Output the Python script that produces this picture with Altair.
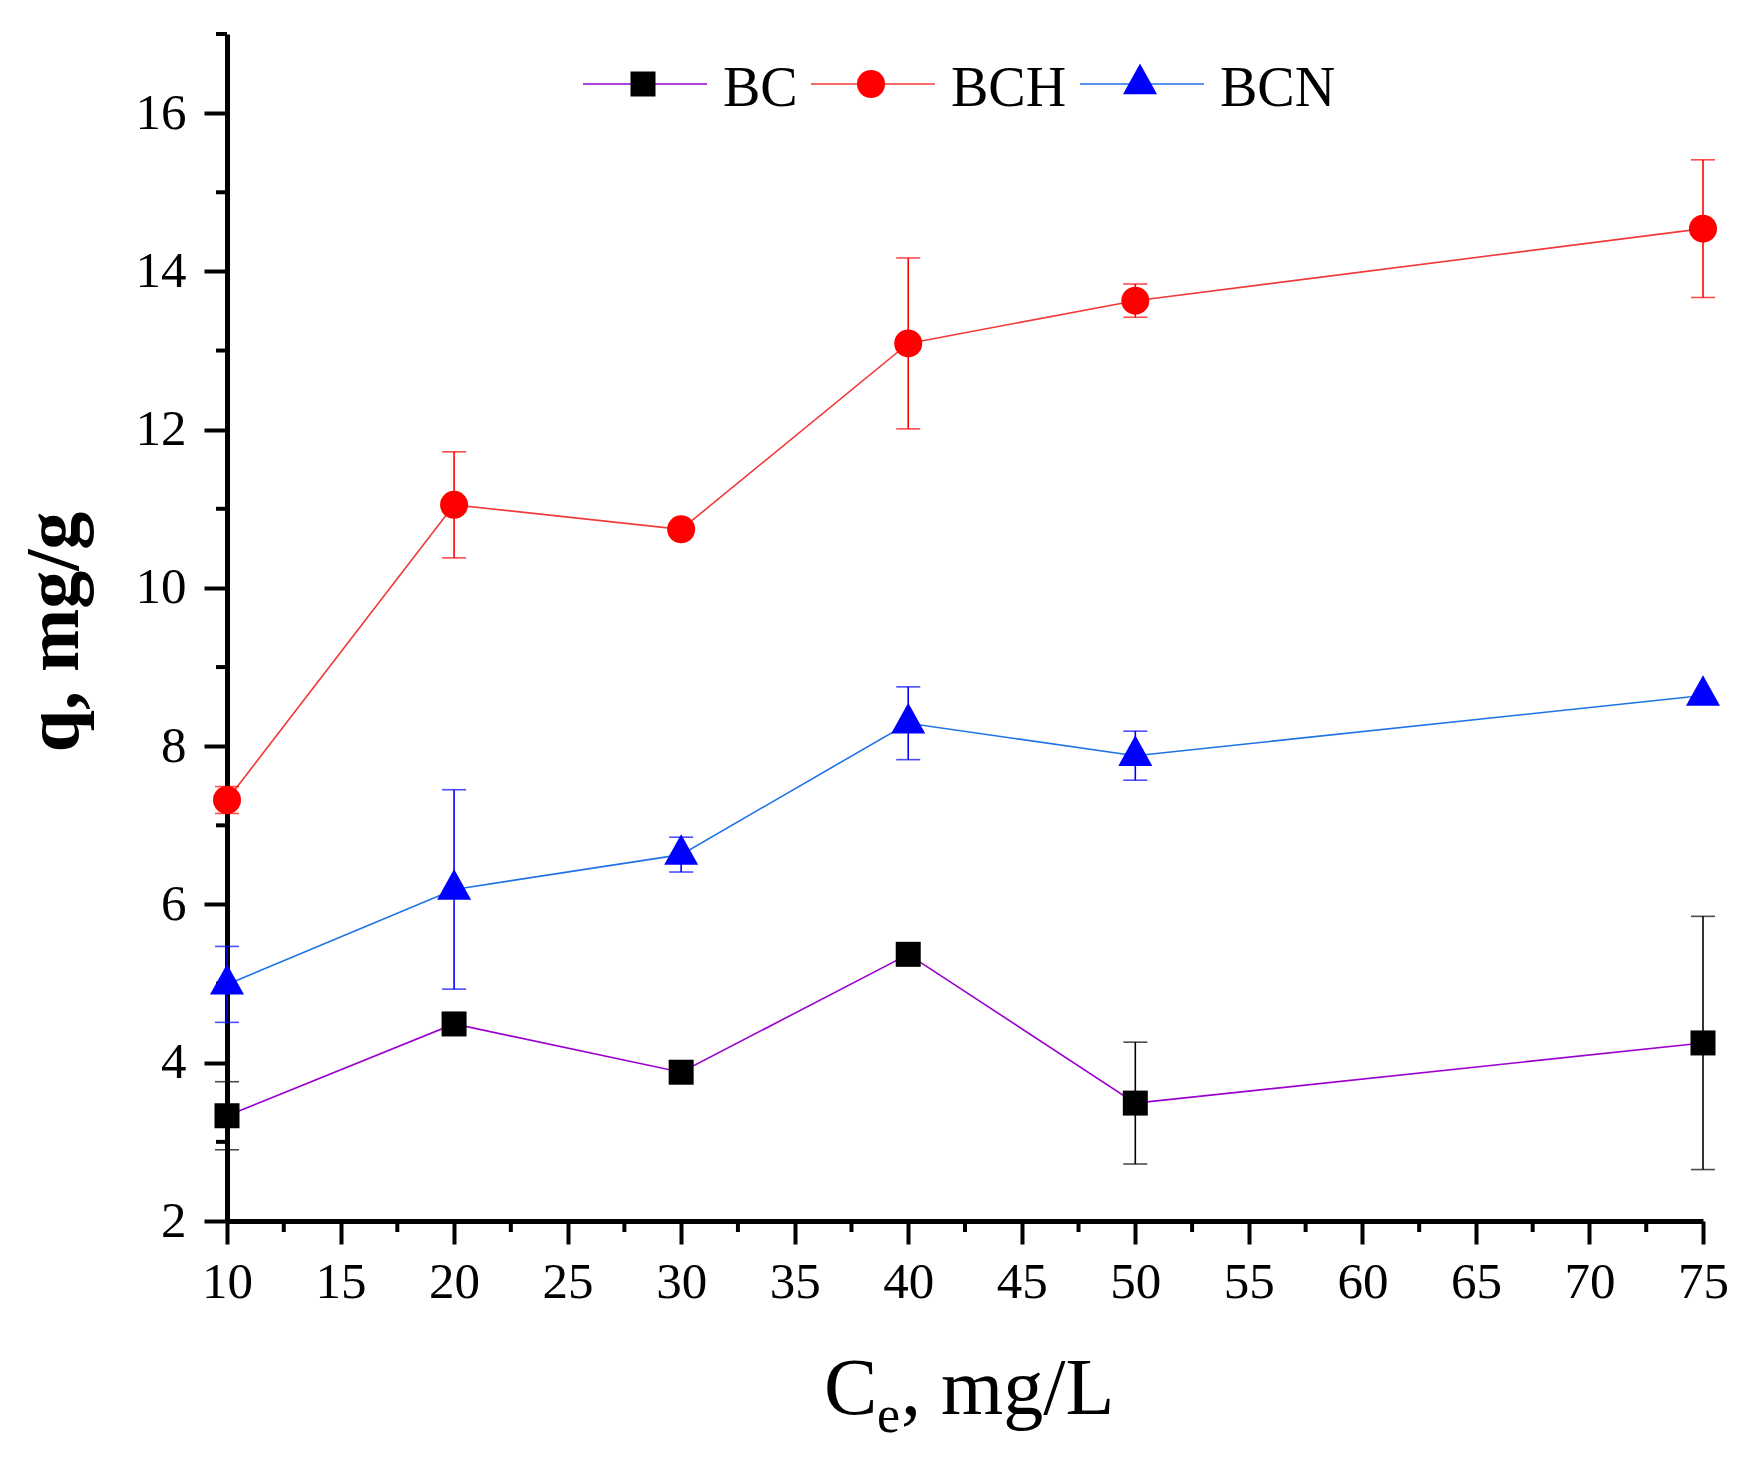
import pandas as pd
import altair as alt

# Ce, mg/L
ce = [10, 20, 30, 40, 50, 75]
series = ["BC", "BCH", "BCN"]

# q, mg/g and standard deviation (0 = no bar drawn)
bc_q = [3.33, 4.49, 3.88, 5.37, 3.49, 4.25]
bc_err = [0.43, 0, 0, 0, 0.77, 1.60]
bch_q = [7.32, 11.05, 10.74, 13.09, 13.63, 14.54]
bch_err = [0.17, 0.67, 0, 1.08, 0.21, 0.87]
bcn_q = [4.99, 6.19, 6.63, 8.29, 7.88, 8.64]
bcn_err = [0.48, 1.26, 0.22, 0.46, 0.31, 0]

x_major = [10, 15, 20, 25, 30, 35, 40, 45, 50, 55, 60, 65, 70, 75]
x_minor = [12.5, 17.5, 22.5, 27.5, 32.5, 37.5, 42.5, 47.5, 52.5, 57.5, 62.5, 67.5, 72.5]
y_major = [2, 4, 6, 8, 10, 12, 14, 16]
y_minor = [3, 5, 7, 9, 11, 13, 15, 17]

W, H = 1476, 1187
FONT = "Liberation Serif"

line_colors = {"BC": "#9B00CF", "BCH": "#F23A3A", "BCN": "#1F73E6"}
mark_colors = {"BC": "#000000", "BCH": "#FF0000", "BCN": "#0000FF"}
shapes = {"BC": "square", "BCH": "circle", "BCN": "M0,-1.2L1,0.6L-1,0.6Z"}
sizes = {"BC": 625, "BCH": 784, "BCN": 1156}

frames = []
for name, q, err in zip(series, [bc_q, bch_q, bcn_q], [bc_err, bch_err, bcn_err]):
    frames.append(pd.DataFrame({"ce": ce, "q": q, "err": err, "series": name}))
df = pd.concat(frames, ignore_index=True)
df["lo"] = df["q"] - df["err"]
df["hi"] = df["q"] + df["err"]

axis_common = dict(domainColor="black", domainWidth=5, tickColor="black", tickWidth=4,
                   tickSize=23, labelFont=FONT, labelFontSize=51, labelColor="black",
                   grid=False, labelFlush=False, labelOverlap=False)


def xq(field):
    return alt.X(field + ":Q", title=None,
                 scale=alt.Scale(domain=[10, 75], nice=False, zero=False),
                 axis=alt.Axis(values=x_major, labelPadding=13, **axis_common))


def yq(field):
    return alt.Y(field + ":Q", title="q, mg/g",
                 scale=alt.Scale(domain=[2, 17], nice=False, zero=False),
                 axis=alt.Axis(values=y_major, labelPadding=18, titleFont=FONT,
                               titleFontSize=76, titleFontWeight="bold", titleColor="black",
                               titleX=-150, titleY=H / 2 + 4, titleAngle=270,
                               titleAlign="center", titleBaseline="alphabetic",
                               **axis_common))


layers = []

# minor ticks
layers.append(alt.Chart(pd.DataFrame({"q": y_minor})).mark_rule(color="black", strokeWidth=4)
              .encode(y=yq("q"), x=alt.value(-11), x2=alt.value(0)))
layers.append(alt.Chart(pd.DataFrame({"ce": x_minor})).mark_rule(color="black", strokeWidth=4)
              .encode(x=xq("ce"), y=alt.value(H), y2=alt.value(H + 11)))

for name in series:
    d = df[df["series"] == name]
    layers.append(alt.Chart(d).mark_line(color=line_colors[name], strokeWidth=1.6)
                  .encode(x=xq("ce"), y=yq("q")))

for name in series:
    d = df[(df["series"] == name) & (df["err"] > 0)]
    c = mark_colors[name]
    layers.append(alt.Chart(d).mark_rule(color=c, strokeWidth=1.6)
                  .encode(x=xq("ce"), y=yq("lo"), y2="hi:Q"))
    layers.append(alt.Chart(d).mark_tick(color=c, orient="horizontal", size=24, thickness=1.6)
                  .encode(x=xq("ce"), y=yq("hi")))
    layers.append(alt.Chart(d).mark_tick(color=c, orient="horizontal", size=24, thickness=1.6)
                  .encode(x=xq("ce"), y=yq("lo")))

for name in series:
    d = df[df["series"] == name]
    layers.append(alt.Chart(d).mark_point(shape=shapes[name], size=sizes[name], filled=True,
                                          color=mark_colors[name], opacity=1)
                  .encode(x=xq("ce"), y=yq("q")))

# legend across the top
legend_start = [356, 584, 853]
for i, name in enumerate(series):
    x0 = legend_start[i]
    ld = pd.DataFrame({"series": [name]})
    layers.append(alt.Chart(ld).mark_rule(color=line_colors[name], strokeWidth=1.6)
                  .encode(x=alt.value(x0), x2=alt.value(x0 + 124), y=alt.value(50)))
    layers.append(alt.Chart(ld).mark_point(shape=shapes[name], size=sizes[name], filled=True,
                                           color=mark_colors[name], opacity=1)
                  .encode(x=alt.value(x0 + 60), y=alt.value(50)))
    layers.append(alt.Chart(ld).mark_text(align="left", baseline="alphabetic", font=FONT,
                                          fontSize=56, color="black")
                  .encode(x=alt.value(x0 + 140), y=alt.value(72), text="series:N"))

# x title with subscript e
tx = pd.DataFrame({"t": ["C"]})
layers.append(alt.Chart(tx).mark_text(text="C", align="left", baseline="alphabetic", font=FONT,
                                      fontSize=80, color="black")
              .encode(x=alt.value(597), y=alt.value(1380)))
layers.append(alt.Chart(tx).mark_text(text="e", align="left", baseline="alphabetic", font=FONT,
                                      fontSize=52, color="black")
              .encode(x=alt.value(650), y=alt.value(1398)))
layers.append(alt.Chart(tx).mark_text(text=", mg/L", align="left", baseline="alphabetic",
                                      font=FONT, fontSize=80, color="black")
              .encode(x=alt.value(674), y=alt.value(1380)))

chart = alt.layer(*layers).properties(
    width=W, height=H,
    autosize=alt.AutoSizeParams(type="none"),
    padding={"left": 219, "top": 26, "right": 30, "bottom": 225},
).configure_view(stroke=None)

chart.save("out.html", embed_options={"renderer": "svg", "actions": False})
